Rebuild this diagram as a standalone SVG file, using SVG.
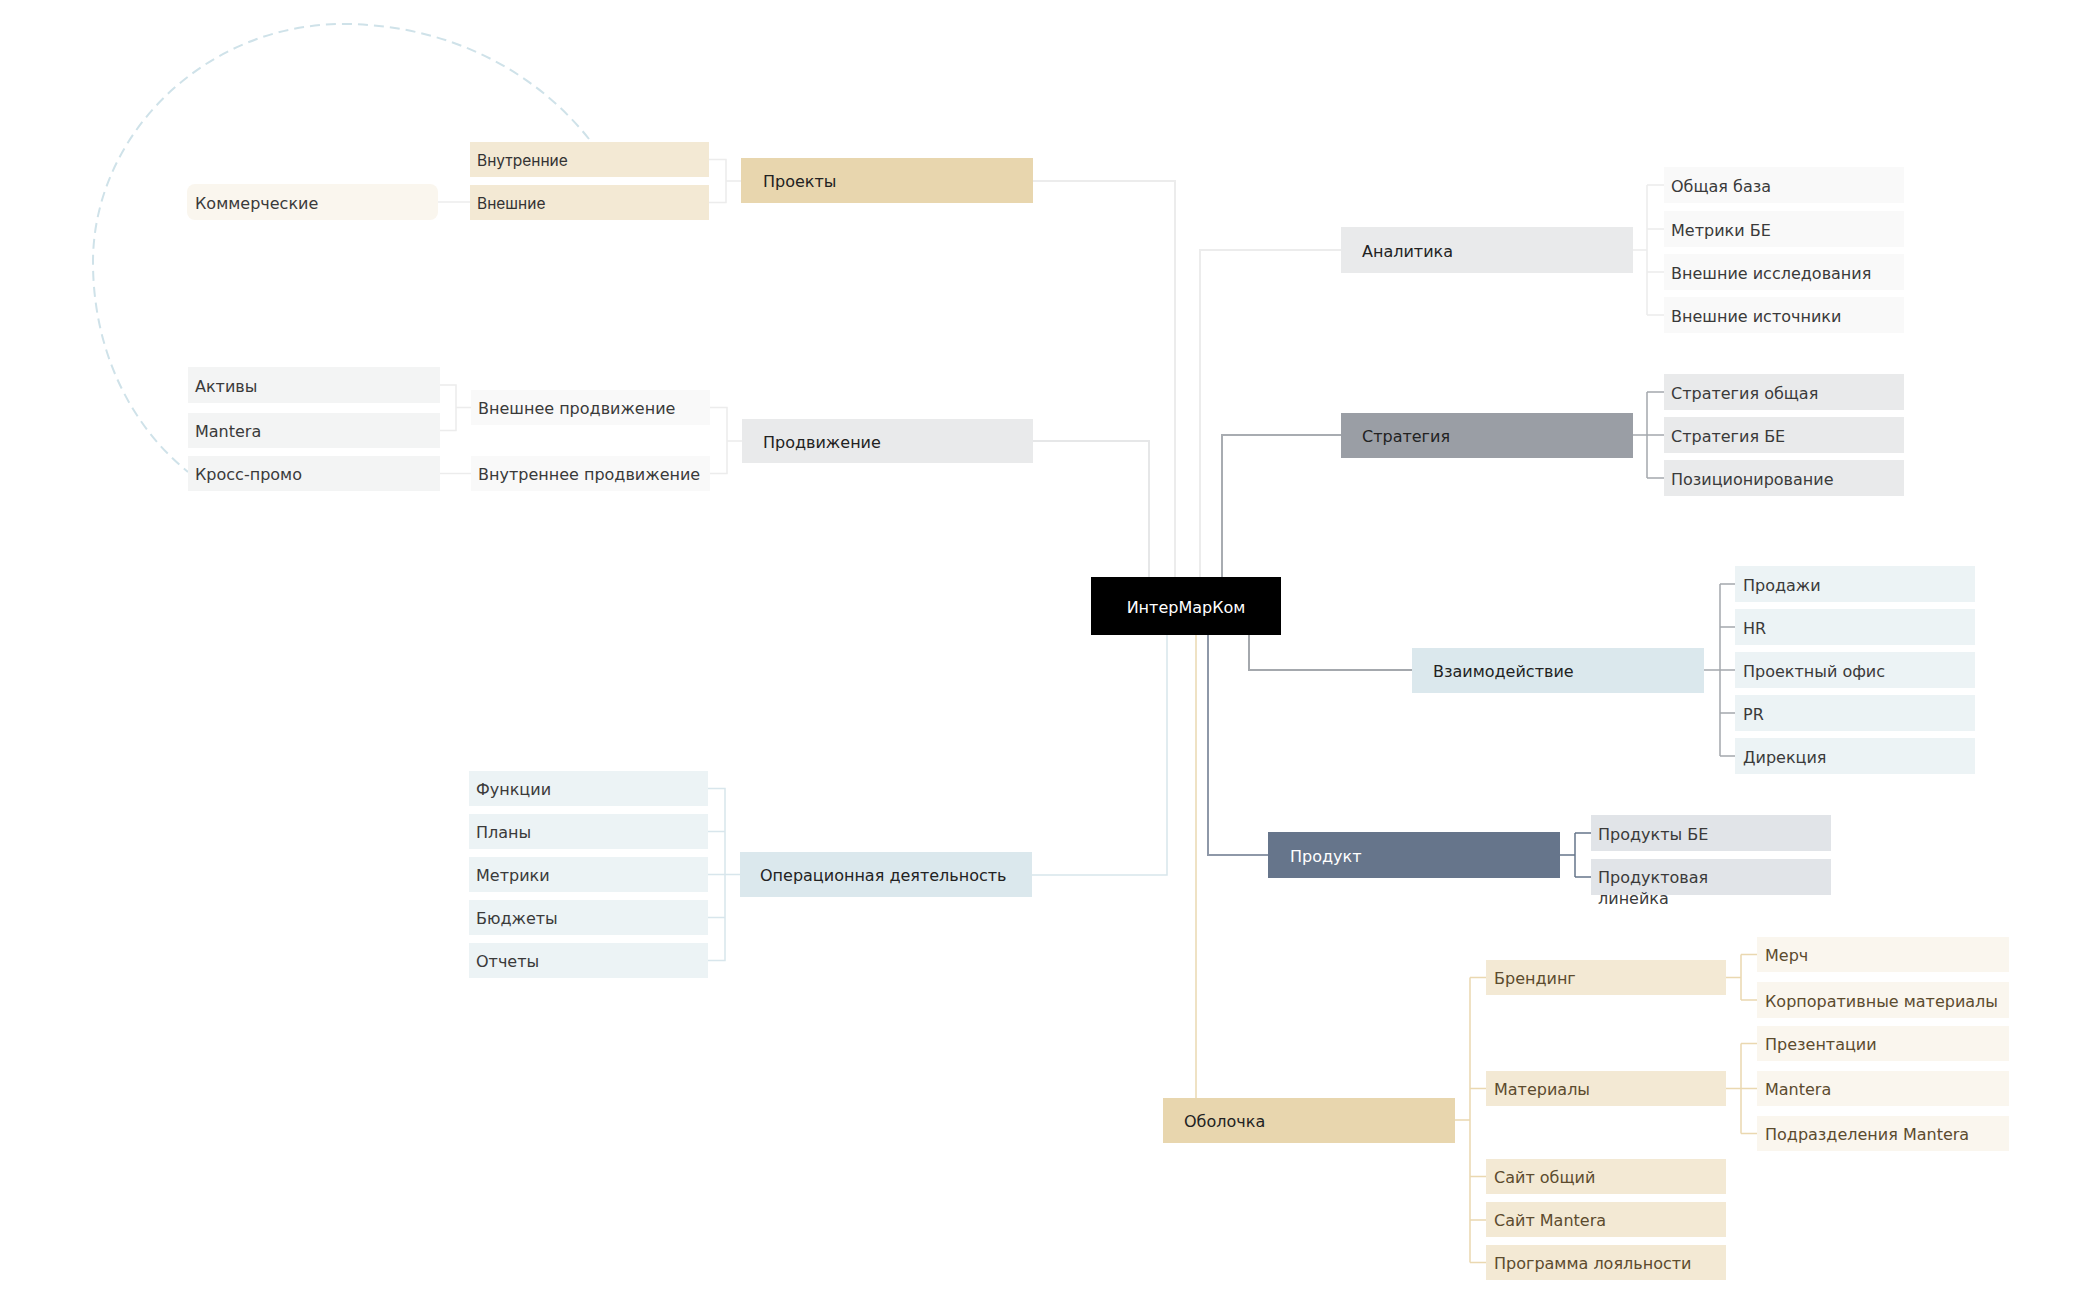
<svg xmlns="http://www.w3.org/2000/svg" width="2098" height="1300" viewBox="0 0 2098 1300">
<style>
text{font-family:"DejaVu Sans",Verdana,sans-serif;font-size:16px;fill:#3a3a3a;transform:translateY(1px)}
.m{fill:#222}
.w{fill:#ffffff}
.br{fill:#5c4b2e}
.sm{font-family:Inter,"DejaVu Sans",sans-serif;font-size:15.5px;fill:#333}
.c{fill:none;stroke-width:1.5}
</style>
<rect width="2098" height="1300" fill="#ffffff"/>
<g id="connectors" fill="none">
<path d="M589,139 C530,65 440,24 343,24 C205,24 93,135 93,262 C93,350 130,425 188,472" stroke="#cfe2e9" stroke-width="2" stroke-dasharray="10 6"/>
<path d="M1175,577 V181 H1033" stroke="#ececec" stroke-width="2"/>
<path d="M1149,577 V441 H1033" stroke="#e6e7e8" stroke-width="2"/>
<path d="M1200,577 V250 H1341" stroke="#ececec" stroke-width="2"/>
<path d="M1222,577 V435 H1341" stroke="#a8acb1" stroke-width="2"/>
<path d="M1167,635 V875 H1032" stroke="#d8e6ec" stroke-width="1.5"/>
<path d="M1196,635 V1098" stroke="#ead8b0" stroke-width="1.5"/>
<path d="M1208,635 V855 H1268" stroke="#8e98a8" stroke-width="2"/>
<path d="M1249,635 V670 H1412" stroke="#a4a8ad" stroke-width="2"/>
<path class="c" stroke="#ececec" d="M709,159.5 H726 V202.5 H709 M726,181 H741"/>
<path class="c" stroke="#ececec" d="M470,202 H438"/>
<path class="c" stroke="#ececec" d="M710,407.5 H727 V473.5 H710 M727,441 H742"/>
<path class="c" stroke="#ececec" d="M440,385 H456 V430.5 H440 M456,407.5 H471"/>
<path class="c" stroke="#ececec" d="M471,473.5 H440"/>
<path class="c" stroke="#d8e6ec" d="M708,788.5 H725 V960.5 H708 M708,831.5 H725 M708,874.5 H740 M708,917.5 H725"/>
<path class="c" stroke="#ececec" d="M1633,250 H1647 M1647,185 V315 M1647,185 H1664 M1647,229 H1664 M1647,272 H1664 M1647,315 H1664"/>
<path class="c" stroke="#a4a8ad" d="M1633,435 H1664 M1647,392 V478 M1647,392 H1664 M1647,478 H1664"/>
<path class="c" stroke="#a4a8ad" d="M1704,670 H1735 M1720,584 V756 M1720,584 H1735 M1720,627 H1735 M1720,713 H1735 M1720,756 H1735"/>
<path class="c" stroke="#66758b" d="M1560,855 H1575 M1575,833 V877 M1575,833 H1591 M1575,877 H1591"/>
<path class="c" stroke="#ead8b0" d="M1455,1120 H1470 M1470,977.5 V1262.5 M1470,977.5 H1486 M1470,1088.5 H1486 M1470,1176.5 H1486 M1470,1220 H1486 M1470,1262.5 H1486"/>
<path class="c" stroke="#ead8b0" d="M1726,977.5 H1741 M1741,954.5 V1000 M1741,954.5 H1757 M1741,1000 H1757"/>
<path class="c" stroke="#ead8b0" d="M1726,1088.5 H1757 M1741,1043.5 V1133.5 M1741,1043.5 H1757 M1741,1133.5 H1757"/>
</g>
<g id="root"><rect x="1091" y="577" width="190" height="58" fill="#000"/><text class="w" x="1186" y="612" text-anchor="middle">ИнтерМарКом</text></g>
<g id="proekty"><rect x="741" y="158" width="292" height="45" fill="#e8d6ae"/><text class="m" x="763" y="186">Проекты</text></g>
<g id="vnutrennie"><rect x="470" y="142" width="239" height="35" fill="#f3e9d4"/><text class="sm" x="477" y="165">Внутренние</text></g>
<g id="vneshnie"><rect x="470" y="185" width="239" height="35" fill="#f3e9d4"/><text class="sm" x="477" y="208">Внешние</text></g>
<g id="kommercheskie"><rect x="187" y="184" width="251" height="36" rx="8" fill="#faf6ee"/><text x="195" y="208">Коммерческие</text></g>
<g id="prodvizhenie"><rect x="742" y="419" width="291" height="44" fill="#e9eaeb"/><text class="m" x="763" y="447">Продвижение</text></g>
<g id="vneshnee-prodv"><rect x="471" y="390" width="239" height="35" fill="#f9f9f9"/><text x="478" y="413">Внешнее продвижение</text></g>
<g id="vnutrennee-prodv"><rect x="471" y="456" width="239" height="35" fill="#f9f9f9"/><text x="478" y="479">Внутреннее продвижение</text></g>
<g id="aktivy"><rect x="188" y="367" width="252" height="36" fill="#f3f4f4"/><text x="195" y="391">Активы</text></g>
<g id="mantera-1"><rect x="188" y="413" width="252" height="35" fill="#f3f4f4"/><text x="195" y="436">Mantera</text></g>
<g id="krosspromo"><rect x="188" y="456" width="252" height="35" fill="#f3f4f4"/><text x="195" y="479">Кросс-промо</text></g>
<g id="operacionnaya"><rect x="740" y="852" width="292" height="45" fill="#dbe8ed"/><text class="m" x="760" y="880">Операционная деятельность</text></g>
<g id="funkcii"><rect x="469" y="771" width="239" height="35" fill="#ecf3f5"/><text x="476" y="794">Функции</text></g>
<g id="plany"><rect x="469" y="814" width="239" height="35" fill="#ecf3f5"/><text x="476" y="837">Планы</text></g>
<g id="metriki"><rect x="469" y="857" width="239" height="35" fill="#ecf3f5"/><text x="476" y="880">Метрики</text></g>
<g id="budzhety"><rect x="469" y="900" width="239" height="35" fill="#ecf3f5"/><text x="476" y="923">Бюджеты</text></g>
<g id="otchety"><rect x="469" y="943" width="239" height="35" fill="#ecf3f5"/><text x="476" y="966">Отчеты</text></g>
<g id="analitika"><rect x="1341" y="227" width="292" height="46" fill="#e9eaeb"/><text class="m" x="1362" y="256">Аналитика</text></g>
<g id="obshaya-baza"><rect x="1664" y="167" width="240" height="36" fill="#f9f9f9"/><text x="1671" y="191">Общая база</text></g>
<g id="metriki-be"><rect x="1664" y="211" width="240" height="36" fill="#f9f9f9"/><text x="1671" y="235">Метрики БЕ</text></g>
<g id="vneshnie-issl"><rect x="1664" y="254" width="240" height="36" fill="#f9f9f9"/><text x="1671" y="278">Внешние исследования</text></g>
<g id="vneshnie-ist"><rect x="1664" y="297" width="240" height="36" fill="#f9f9f9"/><text x="1671" y="321">Внешние источники</text></g>
<g id="strategiya"><rect x="1341" y="413" width="292" height="45" fill="#9a9ea5"/><text class="m" x="1362" y="441">Стратегия</text></g>
<g id="strategiya-obshaya"><rect x="1664" y="374" width="240" height="36" fill="#e9eaeb"/><text x="1671" y="398">Стратегия общая</text></g>
<g id="strategiya-be"><rect x="1664" y="417" width="240" height="36" fill="#e9eaeb"/><text x="1671" y="441">Стратегия БЕ</text></g>
<g id="pozicionirovanie"><rect x="1664" y="460" width="240" height="36" fill="#e9eaeb"/><text x="1671" y="484">Позиционирование</text></g>
<g id="vzaimodeistvie"><rect x="1412" y="648" width="292" height="45" fill="#dbe8ed"/><text class="m" x="1433" y="676">Взаимодействие</text></g>
<g id="prodazhi"><rect x="1735" y="566" width="240" height="36" fill="#ecf3f5"/><text x="1743" y="590">Продажи</text></g>
<g id="hr"><rect x="1735" y="609" width="240" height="36" fill="#ecf3f5"/><text x="1743" y="633">HR</text></g>
<g id="proektny-ofis"><rect x="1735" y="652" width="240" height="36" fill="#ecf3f5"/><text x="1743" y="676">Проектный офис</text></g>
<g id="pr"><rect x="1735" y="695" width="240" height="36" fill="#ecf3f5"/><text x="1743" y="719">PR</text></g>
<g id="direkciya"><rect x="1735" y="738" width="240" height="36" fill="#ecf3f5"/><text x="1743" y="762">Дирекция</text></g>
<g id="produkt"><rect x="1268" y="832" width="292" height="46" fill="#66758b"/><text class="w" x="1290" y="861">Продукт</text></g>
<g id="produkty-be"><rect x="1591" y="815" width="240" height="36" fill="#e1e4e8"/><text x="1598" y="839">Продукты БЕ</text></g>
<g id="produktovaya-lineika"><rect x="1591" y="859" width="240" height="36" fill="#e1e4e8"/><text x="1598" y="882">Продуктовая</text><text x="1598" y="903">линейка</text></g>
<g id="obolochka"><rect x="1163" y="1098" width="292" height="45" fill="#e8d6ae"/><text class="m" x="1184" y="1126">Оболочка</text></g>
<g id="brending"><rect x="1486" y="960" width="240" height="35" fill="#f3e9d4"/><text class="br" x="1494" y="983">Брендинг</text></g>
<g id="materialy"><rect x="1486" y="1071" width="240" height="35" fill="#f3e9d4"/><text class="br" x="1494" y="1094">Материалы</text></g>
<g id="sait-obshii"><rect x="1486" y="1159" width="240" height="35" fill="#f3e9d4"/><text class="br" x="1494" y="1182">Сайт общий</text></g>
<g id="sait-mantera"><rect x="1486" y="1202" width="240" height="35" fill="#f3e9d4"/><text class="br" x="1494" y="1225">Сайт Mantera</text></g>
<g id="programma"><rect x="1486" y="1245" width="240" height="35" fill="#f3e9d4"/><text class="br" x="1494" y="1268">Программа лояльности</text></g>
<g id="merch"><rect x="1757" y="937" width="252" height="35" fill="#faf6ee"/><text class="br" x="1765" y="960">Мерч</text></g>
<g id="korp-materialy"><rect x="1757" y="982" width="252" height="36" fill="#faf6ee"/><text class="br" x="1765" y="1006">Корпоративные материалы</text></g>
<g id="prezentacii"><rect x="1757" y="1026" width="252" height="35" fill="#faf6ee"/><text class="br" x="1765" y="1049">Презентации</text></g>
<g id="mantera-2"><rect x="1757" y="1071" width="252" height="35" fill="#faf6ee"/><text class="br" x="1765" y="1094">Mantera</text></g>
<g id="podrazdeleniya"><rect x="1757" y="1116" width="252" height="35" fill="#faf6ee"/><text class="br" x="1765" y="1139">Подразделения Mantera</text></g>
</svg>
